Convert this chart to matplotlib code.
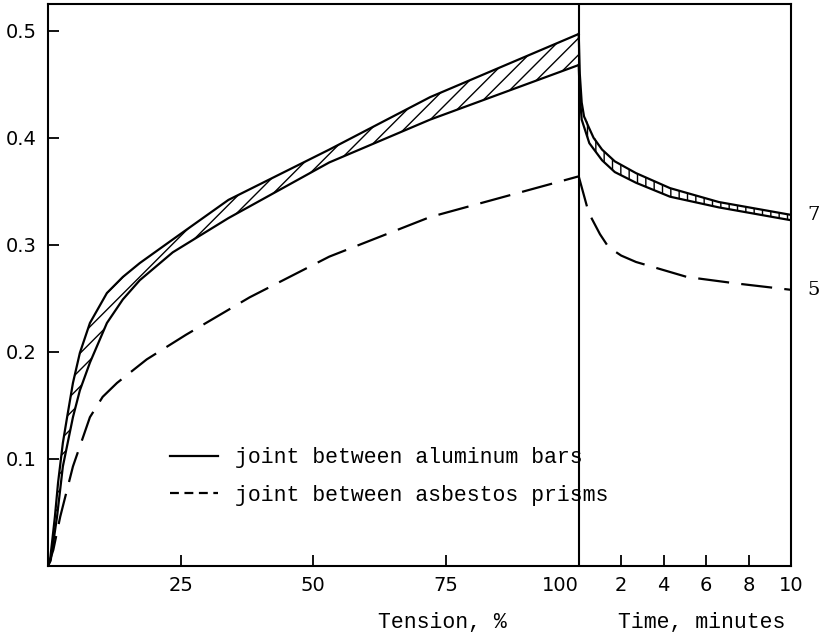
import numpy as np
import matplotlib.pyplot as plt
from matplotlib.lines import Line2D

# tension part (0..100 %)
ten_upper_x = [0, 0.4, 1.3, 1.9, 2.8, 3.6, 4.7, 6, 7.9, 11.1, 14.1, 17.3, 23.5, 34, 53, 72, 100]
ten_upper_y = [0, 0.006, 0.046, 0.078, 0.115, 0.139, 0.171, 0.199, 0.227, 0.255, 0.27, 0.283,
               0.305, 0.342, 0.389, 0.438, 0.497]
ten_lower_x = [0, 0.5, 1.7, 2.8, 4.7, 6, 7.9, 11.1, 14.1, 17.3, 23.5, 34, 53, 72, 100]
ten_lower_y = [0, 0.005, 0.046, 0.093, 0.139, 0.164, 0.19, 0.227, 0.249, 0.267, 0.293, 0.325,
               0.377, 0.417, 0.468]
ten_asb_x = [0, 1, 2.3, 4.7, 7.9, 10.3, 13, 18.6, 26, 38, 53, 72, 100]
ten_asb_y = [0, 0.015, 0.046, 0.093, 0.139, 0.158, 0.171, 0.193, 0.216, 0.251, 0.289, 0.326, 0.364]

# time part (0..10 minutes)
time_upper_x = [0, 0.05, 0.14, 0.25, 0.47, 0.7, 1.1, 1.7, 2.7, 4.3, 6.6, 10]
time_upper_y = [0.497, 0.46, 0.433, 0.42, 0.41, 0.40, 0.389, 0.378, 0.367, 0.353, 0.34, 0.328]
time_lower_x = [0, 0.05, 0.14, 0.5, 1.1, 1.7, 2.7, 4.3, 6.6, 10]
time_lower_y = [0.468, 0.44, 0.417, 0.395, 0.379, 0.368, 0.358, 0.345, 0.335, 0.323]
time_asb_x = [0, 0.47, 1.0, 1.4, 2.0, 2.7, 5.1, 7.4, 10]
time_asb_y = [0.364, 0.33, 0.31, 0.298, 0.29, 0.284, 0.27, 0.264, 0.258]

yticks = [0.1, 0.2, 0.3, 0.4, 0.5]
ten_ticks = [25, 50, 75, 100]
time_ticks = [2, 4, 6, 8, 10]
end_labels = ['7', '5']

legend_labels = ['joint between aluminum bars', 'joint between asbestos prisms']

# minutes are drawn after the 100 % mark, 4 units per minute
def tmap(t):
    return 100 + 4 * np.asarray(t, dtype=float)

mono = 'Liberation Mono'

fig = plt.figure(figsize=(8.3, 6.4), dpi=100)
ax = fig.add_axes([48 / 830, 74 / 640, 743 / 830, 562 / 640])

lw = 1.6
# aluminum band, tension side
ax.plot(ten_upper_x, ten_upper_y, color='k', lw=lw)
ax.plot(ten_lower_x, ten_lower_y, color='k', lw=lw)
xs = np.array(ten_lower_x, dtype=float)
ax.fill_between(xs, np.interp(xs, ten_upper_x, ten_upper_y), ten_lower_y,
                facecolor='none', edgecolor='k', hatch='//', lw=0)

# aluminum band, time side
ax.plot(tmap(time_upper_x), time_upper_y, color='k', lw=lw)
ax.plot(tmap(time_lower_x), time_lower_y, color='k', lw=lw)
xt = np.array(time_lower_x, dtype=float)
ax.fill_between(tmap(xt), np.interp(xt, time_upper_x, time_upper_y), time_lower_y,
                facecolor='none', edgecolor='k', hatch='||', lw=0)

# asbestos
ax.plot(ten_asb_x, ten_asb_y, color='k', lw=lw, dashes=(14, 5.5))
ax.plot(tmap(time_asb_x), time_asb_y, color='k', lw=lw, dashes=(14, 5.5))

ax.axvline(100, color='k', lw=1.5)

ax.set_xlim(0, tmap(10))
ax.set_ylim(0, 0.525)

ax.set_yticks(yticks)
ax.set_yticklabels([f'{v:.1f}' for v in yticks])
ax.set_xticks(ten_ticks + list(tmap(time_ticks)))
ax.set_xticklabels([str(v) for v in ten_ticks] + [str(v) for v in time_ticks])
ax.tick_params(direction='in', length=8, width=1.3, labelsize=14)
ax.tick_params(axis='y', pad=8)
ax.tick_params(axis='x', pad=7)
ax.get_xticklabels()[3].set_horizontalalignment('right')
for s in ax.spines.values():
    s.set_linewidth(1.5)

for lab, yv in zip(end_labels, [time_upper_y[-1], time_asb_y[-1]]):
    ax.text(tmap(10) + 3, yv, lab, fontsize=14, family='DejaVu Serif',
            va='center', ha='left', clip_on=False)

handles = [Line2D([], [], color='k', lw=lw),
           Line2D([], [], color='k', lw=lw, dashes=(4, 2.5))]
ax.legend(handles, legend_labels, loc='upper left', frameon=False,
          bbox_to_anchor=(151 / 830, 1 - 428 / 640), bbox_transform=fig.transFigure,
          prop={'family': mono, 'size': 15.5}, handlelength=2.2, handletextpad=0.8,
          labelspacing=0.75)

fig.text(442 / 830, 1 - 622 / 640, 'Tension, %', family=mono, fontsize=15.5,
         ha='center', va='center')
fig.text(702 / 830, 1 - 622 / 640, 'Time, minutes', family=mono, fontsize=15.5,
         ha='center', va='center')

fig.savefig('out.png', dpi=100)
